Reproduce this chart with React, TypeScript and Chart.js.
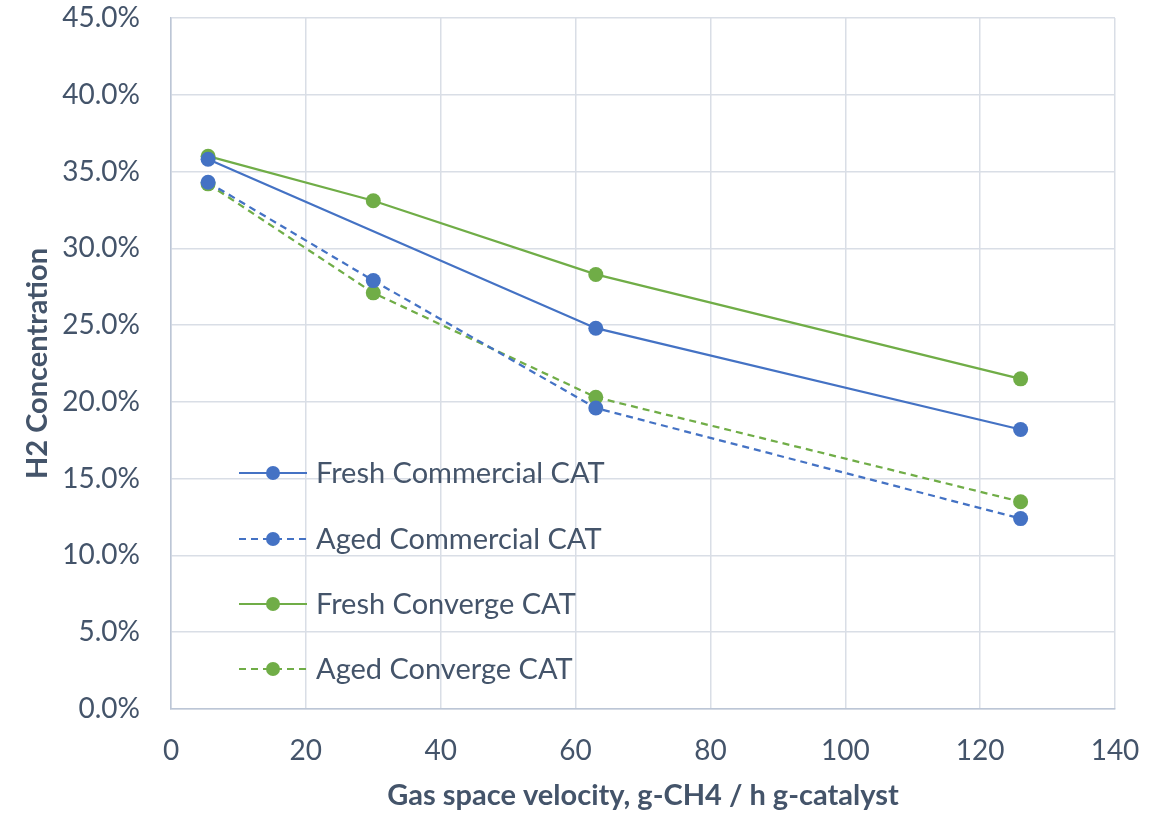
import React, { useEffect, useRef } from "react";
import { Chart, registerables } from "chart.js";

Chart.register(...registerables);

const xFresh = [5.5, 63, 126];
const xAll = [5.5, 30, 63, 126];
const freshCommercial = [35.8, 24.8, 18.2];
const agedCommercial = [34.3, 27.9, 19.6, 12.4];
const freshConverge = [36.0, 33.1, 28.3, 21.5];
const agedConverge = [34.2, 27.1, 20.3, 13.5];
const seriesNames = [
  "Fresh Commercial CAT",
  "Aged Commercial CAT",
  "Fresh Converge CAT",
  "Aged Converge CAT",
];

const BLUE = "#4472C4";
const GREEN = "#70AD47";
const TEXT = "#44546A";
const FONT = "Lato";

const pts = (xs: number[], ys: number[]) => xs.map((x, i) => ({ x, y: ys[i] }));

const legendPlugin = {
  id: "insideLegend",
  afterDraw(chart: any) {
    const ctx = chart.ctx;
    const ds = chart.data.datasets;
    const x0 = 239;
    const x1 = 307;
    const ys = [473, 539, 604, 669];
    ctx.save();
    ds.forEach((d: any, i: number) => {
      const y = ys[i];
      ctx.strokeStyle = d.borderColor;
      ctx.lineWidth = 2;
      ctx.setLineDash(d.borderDash || []);
      ctx.beginPath();
      ctx.moveTo(x0, y);
      ctx.lineTo(x1, y);
      ctx.stroke();
      ctx.setLineDash([]);
      ctx.fillStyle = d.backgroundColor;
      ctx.beginPath();
      ctx.arc((x0 + x1) / 2, y, 7, 0, Math.PI * 2);
      ctx.fill();
      ctx.fillStyle = TEXT;
      ctx.font = `29px ${FONT}`;
      ctx.textBaseline = "middle";
      ctx.textAlign = "left";
      ctx.fillText(d.label, 316, y + 1);
    });
    ctx.restore();
  },
};

export default function App() {
  const ref = useRef<HTMLCanvasElement>(null);
  useEffect(() => {
    document.body.style.margin = "0";
    const mk = (label: string, data: any[], color: string, dash: number[]) => ({
      label,
      data,
      borderColor: color,
      backgroundColor: color,
      borderWidth: 2.25,
      borderDash: dash,
      pointRadius: 7.5,
      pointHoverRadius: 7.5,
      pointBorderWidth: 0,
      pointBackgroundColor: color,
      tension: 0,
      fill: false,
    });
    const chart = new Chart(ref.current!, {
      type: "line",
      data: {
        datasets: [
          mk(seriesNames[0], pts(xFresh, freshCommercial), BLUE, []),
          mk(seriesNames[1], pts(xAll, agedCommercial), BLUE, [7, 5]),
          mk(seriesNames[2], pts(xAll, freshConverge), GREEN, []),
          mk(seriesNames[3], pts(xAll, agedConverge), GREEN, [7, 5]),
        ],
      },
      options: {
        animation: false,
        responsive: false,
        layout: { padding: { left: 0, top: 18, right: 52, bottom: 0 } },
        plugins: { legend: { display: false }, tooltip: { enabled: false } },
        scales: {
          x: {
            type: "linear",
            min: 0,
            max: 140,
            ticks: {
              stepSize: 20,
              color: TEXT,
              font: { family: FONT, size: 28 },
              padding: 25,
            },
            grid: { color: "#d9dee6", lineWidth: 1.5, drawTicks: false },
            border: { color: "#bcc6d6", width: 1.5 },
            title: {
              display: true,
              text: "Gas space velocity, g-CH4 / h g-catalyst",
              color: TEXT,
              font: { family: FONT, size: 29, weight: "bold" },
              padding: { top: 4, bottom: 0 },
            },
            afterFit: (s: any) => {
              s.height = 813 - 709;
            },
          },
          y: {
            min: 0,
            max: 45,
            ticks: {
              stepSize: 5,
              color: TEXT,
              font: { family: FONT, size: 28 },
              padding: 0,
              callback: (v: any) => `${Number(v).toFixed(1)}%`,
            },
            grid: {
              color: "#d9dee6",
              lineWidth: 1.5,
              drawTicks: true,
              tickLength: 31,
              tickColor: "rgba(0,0,0,0)",
            },
            border: { color: "#bcc6d6", width: 1.5 },
            title: {
              display: true,
              text: "H2 Concentration",
              color: TEXT,
              font: { family: FONT, size: 29, weight: "bold" },
              padding: { top: 20, bottom: 0 },
            },
            afterFit: (s: any) => {
              s.width = 171;
            },
          },
        },
      },
      plugins: [legendPlugin],
    });
    return () => chart.destroy();
  }, []);
  return <canvas ref={ref} width={1167} height={813} style={{ display: "block" }} />;
}
